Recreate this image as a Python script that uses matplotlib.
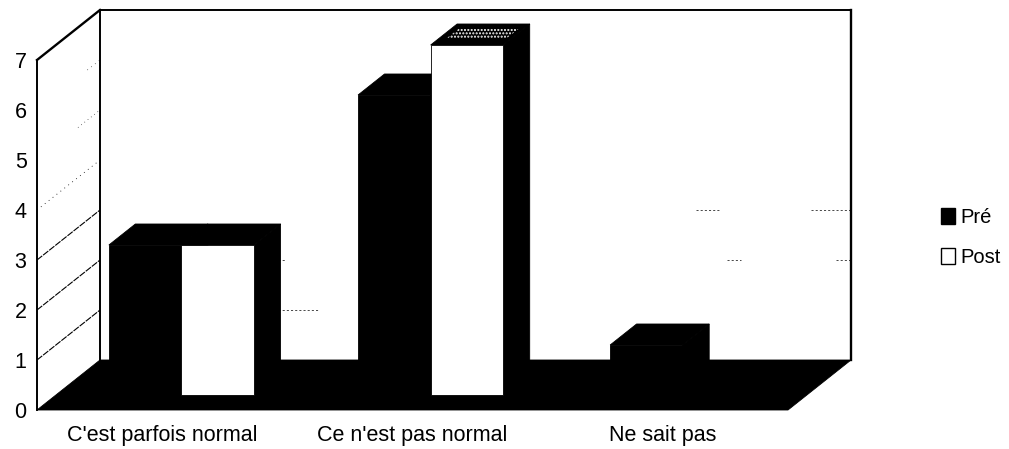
import matplotlib
matplotlib.use('Agg')
import matplotlib.pyplot as plt
from matplotlib.patches import Polygon, Patch

plt.rcParams['font.family'] = ['Liberation Sans', 'DejaVu Sans']

categories = ["C'est parfois normal", "Ce n'est pas normal", "Ne sait pas"]
pre = [3, 6, 1]
post = [3, 7, 0]
y_ticks = [0, 1, 2, 3, 4, 5, 6, 7]

W, H = 1009, 449
DX = 63 / 250.33   # depth shift, x units
DY = 1.0           # depth shift, value units


def proj(x, v, d=0.0):
    return x + DX * d, v + DY * d


def poly(ax, pts, fc='black', ec='black', lw=0.6, z=3, **kw):
    ax.add_patch(Polygon([proj(*p) for p in pts], closed=True, facecolor=fc,
                         edgecolor=ec, linewidth=lw, clip_on=False, zorder=z, **kw))


def line(ax, p1, p2, lw=1.4, ls='-', z=2):
    a, b = proj(*p1), proj(*p2)
    ax.plot([a[0], b[0]], [a[1], b[1]], color='black', lw=lw, ls=ls,
            clip_on=False, zorder=z, solid_capstyle='projecting')


def bar(ax, x, w, v, front):
    d0, d1 = 0.3, 0.72
    # side and top first, then the front face
    poly(ax, [(x+w, 0, d0), (x+w, v, d0), (x+w, v, d1), (x+w, 0, d1)], z=3)
    poly(ax, [(x, v, d0), (x, v, d1), (x+w, v, d1), (x+w, v, d0)], z=3)
    poly(ax, [(x, 0, d0), (x, v, d0), (x+w, v, d0), (x+w, 0, d0)], fc=front, z=4)


fig = plt.figure(figsize=(W/100, H/100), dpi=100)
ax = fig.add_axes([37/W, 1-410/H, 751/W, 350/H])
ax.set_xlim(0, 3)
ax.set_ylim(0, 7)
ax.patch.set_visible(False)
for s in ax.spines.values():
    s.set_visible(False)
ax.set_yticks(y_ticks)
ax.set_yticklabels([str(t) for t in y_ticks], fontsize=15.5)
ax.set_xticks([0.5, 1.5, 2.5])
ax.set_xticklabels(categories, fontsize=15.5)
ax.tick_params(length=0)
ax.tick_params(axis='x', pad=11)
ax.tick_params(axis='y', pad=7.5)

# walls
line(ax, (0, 0, 1), (0, 7, 1))
line(ax, (0, 7, 1), (3, 7, 1))
line(ax, (3, 7, 1), (3, 0, 1), lw=1.7)
line(ax, (0, 0, 0), (0, 7, 0))
line(ax, (0, 7, 0), (0, 7, 1), lw=1.7)

# floor
poly(ax, [(0, 0, 0), (3, 0, 0), (3, 0, 1), (0, 0, 1)], z=2)

# left wall gridlines, mostly lost in the scan above 3
for t in [1, 2, 3]:
    line(ax, (0, t, 0), (0, t, 1), lw=0.8, ls=(0, (6, 1)), z=1)
line(ax, (0, 4, 0), (0, 4, 1), lw=0.6, ls=(0, (1, 5)), z=1)
line(ax, (0, 5, 0.65), (0, 5, 1), lw=0.5, ls=(0, (1, 5)), z=1)
line(ax, (0, 6, 0.8), (0, 6, 1), lw=0.5, ls=(0, (1, 6)), z=1)

# bits of the back wall gridlines
for v, a, b in [(2, 0.71, 0.745), (1, 0.71, 0.87), (2, 1.62, 1.65), (1, 1.62, 1.66),
                (3, 2.38, 2.48), (3, 2.84, 3.0), (2, 2.505, 2.56), (2, 2.94, 3.0)]:
    line(ax, (a, v, 1), (b, v, 1), lw=0.5, ls=(0, (3, 3)), z=1)

# bars
w = 0.29
starts = [0.2117, 1.207, 2.214]
for i in range(3):
    bar(ax, starts[i], w, pre[i], 'black')
    if post[i] > 0:
        bar(ax, starts[i] + w, w, post[i], 'white')

# speckled top of the tallest bar
x = starts[1] + w
poly(ax, [(x+0.03, 7, 0.42), (x+0.03, 7, 0.62), (x+w-0.02, 7, 0.62), (x+w-0.02, 7, 0.42)],
     fc='black', ec='white', lw=0, z=5, hatch='.....')

handles = [Patch(facecolor='black', edgecolor='black', label='Pré'),
           Patch(facecolor='white', edgecolor='black', label='Post')]
fig.legend(handles=handles, loc='upper left', bbox_to_anchor=(941/W, 1-208/H), frameon=False,
           fontsize=14.5, handlelength=0.7, handleheight=0.8, handletextpad=0.25,
           labelspacing=1.05, borderpad=0, borderaxespad=0)

fig.savefig('out.png', dpi=100)
